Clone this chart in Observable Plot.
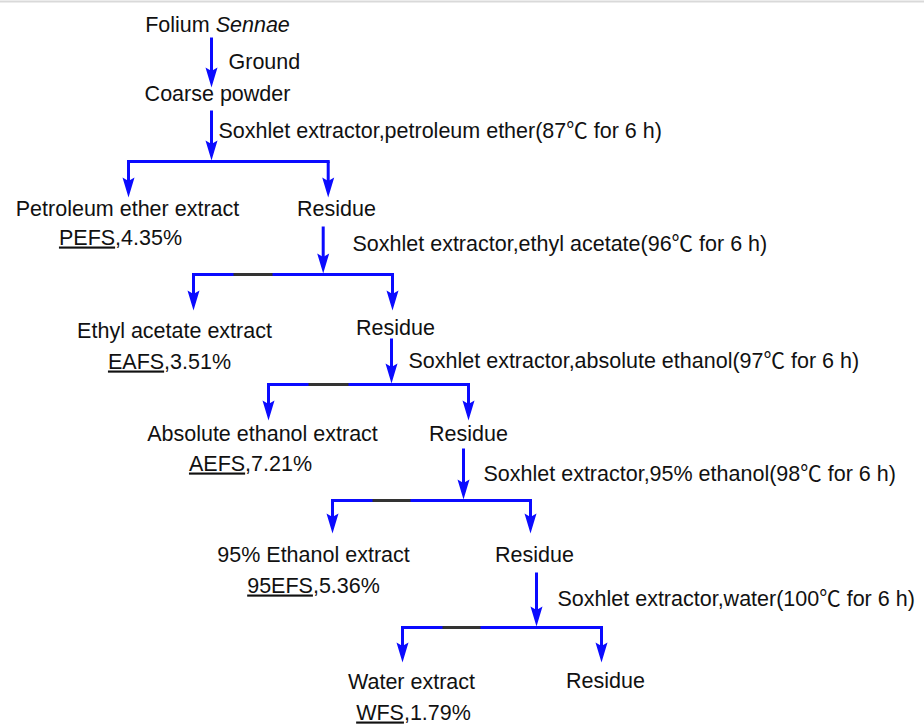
<!DOCTYPE html>
<html>
<head>
<meta charset="utf-8">
<script src="https://cdn.jsdelivr.net/npm/d3@7"></script>
<script src="https://cdn.jsdelivr.net/npm/@observablehq/plot@0.6"></script>
<style>
  html, body { margin: 0; padding: 0; background: #fff; }
  #chart { width: 924px; height: 724px; }
  #chart svg { display: block; }
</style>
</head>
<body>
<div id="chart"></div>
<script>
// ---------- data ----------
const source = "Folium Sennae";
const firstStep = "Ground";
const material = "Coarse powder";
const solvents = ["petroleum ether", "ethyl acetate", "absolute ethanol", "95% ethanol", "water"];
const temperatures = [87, 96, 97, 98, 100];
const hours = [6, 6, 6, 6, 6];
const extracts = ["Petroleum ether extract", "Ethyl acetate extract", "Absolute ethanol extract", "95% Ethanol extract", "Water extract"];
const codes = ["PEFS", "EAFS", "AEFS", "95EFS", "WFS"];
const yields = [4.35, 3.51, 7.21, 5.36, 1.79];
const residueLabel = "Residue";

// ---------- layout (pixel positions of the diagram) ----------
const stepX    = [211, 322.7, 391, 463, 536];   // vertical arrow into each split
const stepTop  = [110, 226, 338, 448, 572];
const branchY  = [161, 274, 384, 500, 627];
const leftX    = [128, 193, 268, 332, 402];
const rightX   = [327.7, 392, 468, 530, 601];
const tipY     = [197, 310, 420, 533, 662];
const darkSeg  = [null, [233, 272], [308, 348], [372, 410], [442, 480]];
const extractX = [127, 174, 262, 313, 411];
const extractY = [215, 337, 440, 561, 688];
const codeX    = [120, 169, 250, 313, 413];
const codeY    = [244, 368, 470, 592, 719];
const residueX = [336, 395, 468, 534, 605];
const residueY = [215, 334, 440, 561, 687];
const condX    = [218, 352, 408, 483, 557];
const condY    = [137, 250, 367, 480, 605];

const BLUE = "#0b0bff";
const FONT = "'Liberation Sans', Arial, 'Noto Sans CJK SC', sans-serif";
const FS = 21.5;

// ---------- derived tables ----------
const shafts = [{x1: 211, y1: 37, x2: 211, y2: 76}];
const heads = [{x: 211, y: 87}];
const branches = [];
const darks = [];
solvents.forEach((s, i) => {
  shafts.push({x1: stepX[i], y1: stepTop[i], x2: stepX[i], y2: branchY[i] - 8});
  heads.push({x: stepX[i], y: branchY[i] - 1});
  branches.push({x1: leftX[i], y1: branchY[i], x2: rightX[i], y2: branchY[i]});
  shafts.push({x1: leftX[i], y1: branchY[i], x2: leftX[i], y2: tipY[i] - 10});
  shafts.push({x1: rightX[i], y1: branchY[i], x2: rightX[i], y2: tipY[i] - 10});
  heads.push({x: leftX[i], y: tipY[i]});
  heads.push({x: rightX[i], y: tipY[i]});
  if (darkSeg[i]) darks.push({x1: darkSeg[i][0], y1: branchY[i], x2: darkSeg[i][1], y2: branchY[i]});
});

const centered = [
  {x: 217, y: 31, text: source},
  {x: 217, y: 100, text: material},
  ...extracts.map((t, i) => ({x: extractX[i], y: extractY[i], text: t})),
  ...extracts.map((t, i) => ({x: residueX[i], y: residueY[i], text: residueLabel}))
];
const codeTexts = codes.map((c, i) => ({x: codeX[i], y: codeY[i], text: `${c},${yields[i].toFixed(2)}%`}));
const conditions = [
  {x: 228, y: 68, text: firstStep},
  ...solvents.map((s, i) => ({x: condX[i], y: condY[i], text: `Soxhlet extractor,${s}(${temperatures[i]}\u2103 for ${hours[i]} h)`}))
];

const arrowHead = {
  draw(ctx) {
    ctx.moveTo(0, 0);
    ctx.lineTo(-6, -20);
    ctx.lineTo(0, -16.5);
    ctx.lineTo(6, -20);
    ctx.closePath();
  }
};

const plot = Plot.plot({
  width: 924,
  height: 724,
  margin: 0,
  x: {type: "identity", axis: null},
  y: {type: "identity", axis: null},
  style: {fontFamily: FONT, background: "#fff"},
  marks: [
    Plot.ruleY([1], {stroke: "#d9d9d9", strokeWidth: 2}),
    Plot.link(shafts, {x1: "x1", y1: "y1", x2: "x2", y2: "y2", stroke: BLUE, strokeWidth: 3}),
    Plot.link(branches, {x1: "x1", y1: "y1", x2: "x2", y2: "y2", stroke: BLUE, strokeWidth: 3, strokeLinecap: "square"}),
    Plot.link(darks, {x1: "x1", y1: "y1", x2: "x2", y2: "y2", stroke: "#333", strokeWidth: 3}),
    Plot.dot(heads, {x: "x", y: "y", symbol: arrowHead, fill: BLUE, stroke: "none", r: 6}),
    Plot.text(centered, {x: "x", y: "y", text: "text", textAnchor: "middle", lineAnchor: "bottom", fontSize: FS, fill: "#111", className: "centered"}),
    Plot.text(codeTexts, {x: "x", y: "y", text: "text", textAnchor: "middle", lineAnchor: "bottom", fontSize: FS, fill: "#111", className: "codes"}),
    Plot.text(conditions, {x: "x", y: "y", text: "text", textAnchor: "start", lineAnchor: "bottom", fontSize: FS, fill: "#111"})
  ]
});

// underline the sample codes
plot.querySelectorAll("g.codes text").forEach(t => {
  const s = t.textContent;
  const k = s.indexOf(",");
  t.textContent = "";
  const a = document.createElementNS("http://www.w3.org/2000/svg", "tspan");
  a.setAttribute("text-decoration", "underline");
  a.style.textDecoration = "underline";
  a.textContent = s.slice(0, k);
  const b = document.createElementNS("http://www.w3.org/2000/svg", "tspan");
  b.textContent = s.slice(k);
  t.appendChild(a); t.appendChild(b);
});
// italic species name
plot.querySelectorAll("g.centered text").forEach(t => {
  const s = t.textContent;
  if (s === source) {
    const parts = s.split(" ");
    t.textContent = "";
    const a = document.createElementNS("http://www.w3.org/2000/svg", "tspan");
    a.textContent = parts[0] + " ";
    const b = document.createElementNS("http://www.w3.org/2000/svg", "tspan");
    b.setAttribute("font-style", "italic");
    b.textContent = parts.slice(1).join(" ");
    t.appendChild(a); t.appendChild(b);
  }
});

document.getElementById("chart").appendChild(plot);
</script>
</body>
</html>
